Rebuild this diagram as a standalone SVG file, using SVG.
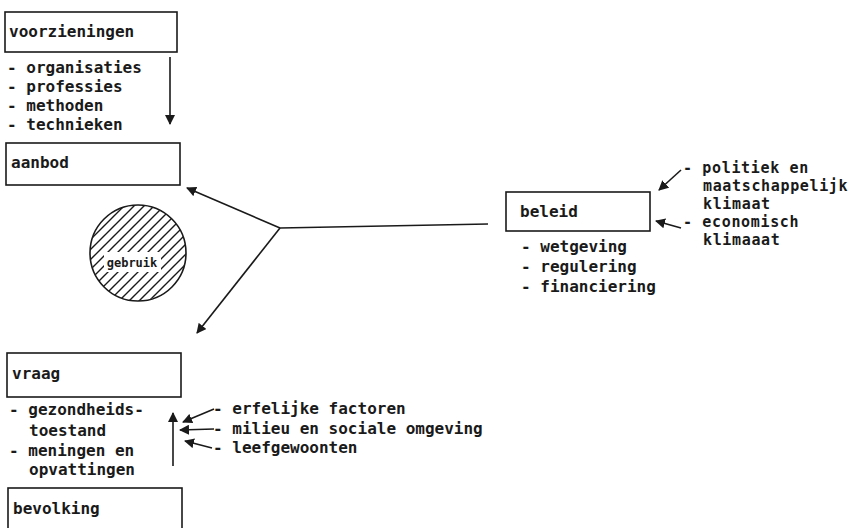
<svg xmlns="http://www.w3.org/2000/svg" width="851" height="528" viewBox="0 0 851 528">
<defs>
<style>
.t{font-family:"DejaVu Sans Mono","Liberation Mono",monospace;font-size:16px;font-weight:bold;fill:#1a1a1a;white-space:pre}
.r{font-size:15px;letter-spacing:0.65px}
.s{font-family:"DejaVu Sans Mono","Liberation Mono",monospace;font-size:12px;font-weight:bold;fill:#1a1a1a}
.box{fill:#fff;stroke:#1a1a1a;stroke-width:1.6}
.c{fill:none;stroke:#1a1a1a;stroke-width:1.6}
</style>
<marker id="ah" viewBox="0 0 10 10" refX="9" refY="5" markerWidth="10" markerHeight="10" markerUnits="userSpaceOnUse" orient="auto">
<path d="M0,0 L10,5 L0,10 Z" fill="#1a1a1a"/>
</marker>
<pattern id="hatch" patternUnits="userSpaceOnUse" width="10" height="10">
<path d="M-2,2 L2,-2 M0,10 L10,0 M8,12 L12,8" stroke="#1a1a1a" stroke-width="1.4"/>
</pattern>
</defs>
<rect width="851" height="528" fill="#fff"/>

<g id="voorzieningen">
<rect class="box" x="5" y="12" width="172" height="40"/>
<text class="t" x="9" y="37">voorzieningen</text>
<text class="t" x="7" y="73">- organisaties</text>
<text class="t" x="7" y="92">- professies</text>
<text class="t" x="7" y="111">- methoden</text>
<text class="t" x="7" y="130">- technieken</text>
</g>

<g id="aanbod">
<rect class="box" x="6" y="143" width="174" height="42"/>
<text class="t" x="11" y="168">aanbod</text>
</g>

<g id="gebruik">
<circle cx="138" cy="253" r="48" fill="url(#hatch)" stroke="#1a1a1a" stroke-width="1.6"/>
<rect x="104" y="252" width="57" height="20" fill="#fff"/>
<text class="s" x="132" y="267" text-anchor="middle">gebruik</text>
</g>

<g id="beleid">
<rect class="box" x="506" y="192" width="144" height="39"/>
<text class="t" x="520" y="217">beleid</text>
<text class="t" x="521" y="252">- wetgeving</text>
<text class="t" x="521" y="272">- regulering</text>
<text class="t" x="521" y="292">- financiering</text>
<text class="t r" x="683" y="173">- politiek en</text>
<text class="t r" x="703" y="191">maatschappelijk</text>
<text class="t r" x="703" y="209">klimaat</text>
<text class="t r" x="683" y="227">- economisch</text>
<text class="t r" x="703" y="245">klimaaat</text>
</g>

<g id="vraag">
<rect class="box" x="7" y="353" width="174" height="44"/>
<text class="t" x="12" y="379">vraag</text>
<text class="t" x="9" y="415">- gezondheids-</text>
<text class="t" x="29" y="436">toestand</text>
<text class="t" x="9" y="456">- meningen en</text>
<text class="t" x="29" y="475">opvattingen</text>
<text class="t" x="213" y="414">- erfelijke factoren</text>
<text class="t" x="213" y="434">- milieu en sociale omgeving</text>
<text class="t" x="213" y="453">- leefgewoonten</text>
</g>

<g id="bevolking">
<rect class="box" x="8" y="488" width="174" height="50"/>
<text class="t" x="13" y="514">bevolking</text>
</g>

<g id="connectors">
<line class="c" x1="170" y1="57" x2="170" y2="124" marker-end="url(#ah)"/>
<polyline class="c" points="488,224 280,228"/>
<line class="c" x1="280" y1="228" x2="187" y2="188" marker-end="url(#ah)"/>
<line class="c" x1="280" y1="228" x2="197" y2="333" marker-end="url(#ah)"/>
<line class="c" x1="173" y1="466" x2="173" y2="413" marker-end="url(#ah)"/>
<line class="c" x1="214" y1="409" x2="183" y2="422" marker-end="url(#ah)"/>
<line class="c" x1="214" y1="429" x2="180" y2="430" marker-end="url(#ah)"/>
<line class="c" x1="212" y1="448" x2="185" y2="441" marker-end="url(#ah)"/>
<line class="c" x1="681" y1="170" x2="659" y2="190" marker-end="url(#ah)"/>
<line class="c" x1="681" y1="228" x2="656" y2="221" marker-end="url(#ah)"/>
</g>
</svg>
